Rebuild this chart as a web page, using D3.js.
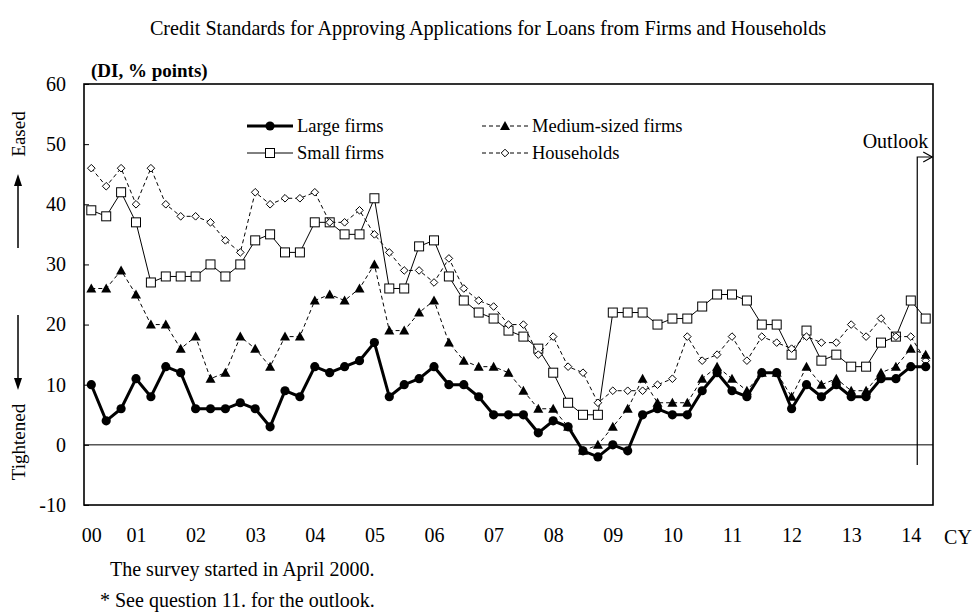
<!DOCTYPE html>
<html>
<head>
<meta charset="utf-8">
<script src="https://cdn.jsdelivr.net/npm/d3@7"></script>
<style>
  body { margin: 0; background: #fff; }
  svg text { font-family: "Liberation Serif", "Times New Roman", serif; fill: #000; }
</style>
</head>
<body>
<div id="chart"></div>
<script>
// DI values, quarterly surveys from April 2000 (last point = outlook)
var largeFirms = [10,4,6,11,8,13,12,6,6,6, 7,6,3,9,8,13,12,13,14,17,
  8,10,11,13,10,10,8,5,5,5, 2,4,3,-1,-2,0,-1,5,6,5,
  5,9,12,9,8,12,12,6,10,8, 10,8,8,11,11,13,13];
var mediumFirms = [26,26,29,25,20,20,16,18,11,12, 18,16,13,18,18,24,25,24,26,30,
  19,19,22,24,17,14,13,13,12,9, 6,6,3,-1,0,3,6,11,7,7,
  7,11,13,11,9,12,12,8,13,10, 11,9,9,12,13,16,15];
var smallFirms = [39,38,42,37,27,28,28,28,30,28, 30,34,35,32,32,37,37,35,35,41,
  26,26,33,34,28,24,22,21,19,18, 16,12,7,5,5,22,22,22,20,21,
  21,23,25,25,24,20,20,15,19,14, 15,13,13,17,18,24,21];
var households = [46,43,46,40,46,40,38,38,37,34, 32,42,40,41,41,42,37,37,39,35,
  32,29,29,27,31,26,24,23,20,20, 15,18,13,12,7,9,9,9,10,11,
  18,14,15,18,14,18,17,16,18,17, 17,20,18,21,18,18,14];

var yearLabels = ["00","01","02","03","04","05","06","07","08","09","10","11","12","13","14"];
var yTicks = [-10,0,10,20,30,40,50,60];

// survey months: Apr 2000 ... Apr 2014
var quarters = [];
for (var yr = 2000; yr <= 2014; yr++) {
  [1,4,7,10].forEach(function(m) {
    if ((yr == 2000 && m < 4) || (yr == 2014 && m > 4)) return;
    quarters.push(yr + "/" + m);
  });
}
// label positions: first survey, then each January
var yearTickCats = ["2000/4"];
for (var yr = 2001; yr <= 2014; yr++) yearTickCats.push(yr + "/1");

var W = 976, H = 612;
var plotL = 84, plotR = 933, plotT = 84, plotB = 505;

var svg = d3.select("#chart").append("svg")
  .attr("width", W).attr("height", H);

var x = d3.scalePoint().domain(quarters).range([plotL, plotR]).padding(0.49);
var y = d3.scaleLinear().domain([-10, 60]).range([plotB, plotT]);

// title
svg.append("text")
  .attr("x", 488).attr("y", 35)
  .attr("text-anchor", "middle")
  .style("font-size", "20.2px")
  .text("Credit Standards for Approving Applications for Loans from Firms and Households");

svg.append("text")
  .attr("x", 91).attr("y", 77)
  .style("font-size", "19px").style("font-weight", "bold")
  .text("(DI, % points)");

// zero line
svg.append("line")
  .attr("x1", plotL).attr("x2", plotR)
  .attr("y1", y(0)).attr("y2", y(0))
  .attr("stroke", "#000").attr("stroke-width", 1);

// y axis
var yAxis = svg.append("g")
  .attr("transform", "translate(" + plotL + ",0)")
  .call(d3.axisLeft(y).tickValues(yTicks).tickSize(-5).tickPadding(18)
    .tickFormat(function(d) { return String(d); }));
yAxis.select(".domain").remove();
yAxis.selectAll("text").style("font-size", "20px").style("font-family", "Liberation Serif, serif");
yAxis.selectAll("line").attr("stroke", "#000");

// x axis labels
var xAxis = svg.append("g")
  .attr("transform", "translate(0," + plotB + ")")
  .call(d3.axisBottom(x).tickValues(yearTickCats)
    .tickFormat(function(d, i) { return yearLabels[i]; })
    .tickSize(0).tickPadding(23));
xAxis.select(".domain").remove();
xAxis.selectAll("text").style("font-size", "20px").style("font-family", "Liberation Serif, serif");

svg.append("text")
  .attr("x", 958).attr("y", 544)
  .attr("text-anchor", "middle")
  .style("font-size", "20px")
  .text("CY");

// plot frame
svg.append("rect")
  .attr("x", plotL).attr("y", plotT)
  .attr("width", plotR - plotL).attr("height", plotB - plotT)
  .attr("fill", "none").attr("stroke", "#000").attr("stroke-width", 1.6);

// series
var line = d3.line()
  .x(function(d, i) { return x(quarters[i]); })
  .y(function(d) { return y(d); });

function drawMarker(g, type, cx, cy) {
  if (type == "circle") {
    g.append("circle").attr("cx", cx).attr("cy", cy).attr("r", 4.6).attr("fill", "#000");
  } else if (type == "square") {
    g.append("rect").attr("x", cx - 4.5).attr("y", cy - 4.5)
      .attr("width", 9).attr("height", 9)
      .attr("fill", "#fff").attr("stroke", "#000").attr("stroke-width", 1);
  } else if (type == "triangle") {
    g.append("path")
      .attr("d", "M" + cx + "," + (cy - 5) + "L" + (cx + 5) + "," + (cy + 4) + "L" + (cx - 5) + "," + (cy + 4) + "Z")
      .attr("fill", "#000");
  } else if (type == "diamond") {
    g.append("path")
      .attr("d", "M" + cx + "," + (cy - 3.8) + "L" + (cx + 3.8) + "," + cy + "L" + cx + "," + (cy + 3.8) + "L" + (cx - 3.8) + "," + cy + "Z")
      .attr("fill", "#fff").attr("stroke", "#000").attr("stroke-width", 1);
  }
}

var series = [
  { name: "Small firms", values: smallFirms, marker: "square", width: 1, dash: null },
  { name: "Households", values: households, marker: "diamond", width: 1, dash: "4,3" },
  { name: "Medium-sized firms", values: mediumFirms, marker: "triangle", width: 1, dash: "4,3" },
  { name: "Large firms", values: largeFirms, marker: "circle", width: 3, dash: null }
];

series.forEach(function(s) {
  var g = svg.append("g");
  g.append("path")
    .datum(s.values)
    .attr("d", line)
    .attr("fill", "none")
    .attr("stroke", "#000")
    .attr("stroke-width", s.width)
    .attr("stroke-dasharray", s.dash);
  s.values.forEach(function(v, i) {
    drawMarker(g, s.marker, x(quarters[i]), y(v));
  });
});

// outlook marker
var ox = (x(quarters[55]) + x(quarters[56])) / 2 - 1;
svg.append("path")
  .attr("d", "M" + ox + "," + 465 + "V" + 157 + "H" + (ox + 15))
  .attr("fill", "none").attr("stroke", "#000").attr("stroke-width", 1.2);
svg.append("path")
  .attr("d", "M" + (ox + 6) + ",152L" + (ox + 15) + ",157L" + (ox + 6) + ",162")
  .attr("fill", "none").attr("stroke", "#000").attr("stroke-width", 1.2);
svg.append("text")
  .attr("x", ox + 11).attr("y", 148)
  .attr("text-anchor", "end")
  .style("font-size", "20px")
  .text("Outlook");

// legend
var legendItems = [
  { s: series[3], lx: 247, ly: 126 },
  { s: series[2], lx: 482, ly: 126 },
  { s: series[0], lx: 247, ly: 153 },
  { s: series[1], lx: 482, ly: 153 }
];
legendItems.forEach(function(it) {
  var g = svg.append("g");
  g.append("line")
    .attr("x1", it.lx).attr("x2", it.lx + 46)
    .attr("y1", it.ly).attr("y2", it.ly)
    .attr("stroke", "#000").attr("stroke-width", it.s.width)
    .attr("stroke-dasharray", it.s.dash);
  drawMarker(g, it.s.marker, it.lx + 23, it.ly);
  g.append("text")
    .attr("x", it.lx + 50).attr("y", it.ly + 6)
    .style("font-size", "18.5px")
    .text(it.s.name);
});

// side labels
svg.append("text")
  .attr("transform", "translate(25,134) rotate(-90)")
  .attr("text-anchor", "middle")
  .style("font-size", "19px")
  .text("Eased");
svg.append("text")
  .attr("transform", "translate(25,442) rotate(-90)")
  .attr("text-anchor", "middle")
  .style("font-size", "19px")
  .text("Tightened");

svg.append("line").attr("x1", 18).attr("x2", 18).attr("y1", 248).attr("y2", 184)
  .attr("stroke", "#000").attr("stroke-width", 1.5);
svg.append("path").attr("d", "M18,174L14,186L22,186Z").attr("fill", "#000");
svg.append("line").attr("x1", 18).attr("x2", 18).attr("y1", 315).attr("y2", 380)
  .attr("stroke", "#000").attr("stroke-width", 1.5);
svg.append("path").attr("d", "M18,390L14,378L22,378Z").attr("fill", "#000");

// notes
svg.append("text")
  .attr("x", 110).attr("y", 576)
  .style("font-size", "20px")
  .text("The survey started in April 2000.");
svg.append("text")
  .attr("x", 100).attr("y", 607)
  .style("font-size", "20px")
  .text("* See question 11. for the outlook.");
</script>
</body>
</html>
